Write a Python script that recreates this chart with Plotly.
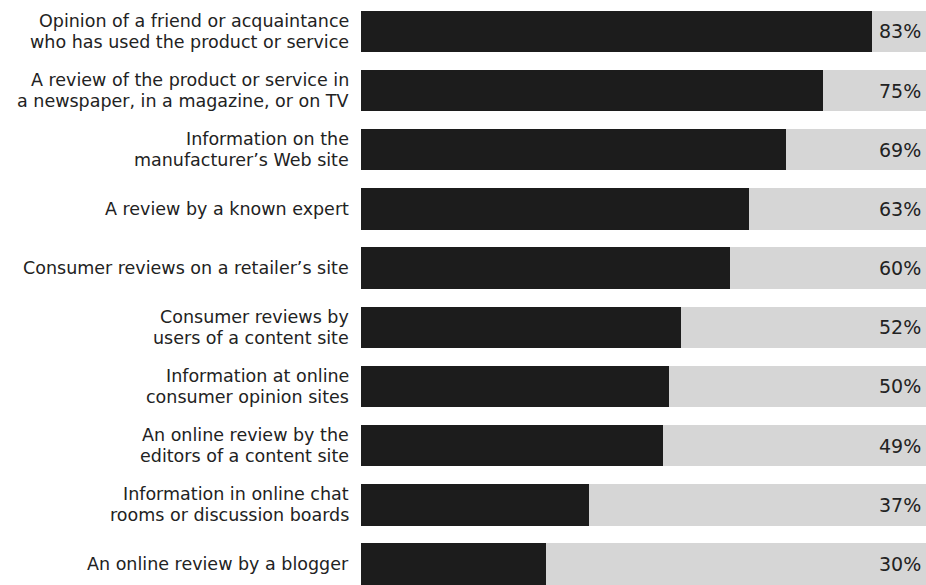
import plotly.graph_objects as go

categories = [
    "Opinion of a friend or acquaintance<br>who has used the product or service",
    "A review of the product or service in<br>a newspaper, in a magazine, or on TV",
    "Information on the<br>manufacturer\u2019s Web site",
    "A review by a known expert",
    "Consumer reviews on a retailer\u2019s site",
    "Consumer reviews by<br>users of a content site",
    "Information at online<br>consumer opinion sites",
    "An online review by the<br>editors of a content site",
    "Information in online chat<br>rooms or discussion boards",
    "An online review by a blogger",
]
values = [83, 75, 69, 63, 60, 52, 50, 49, 37, 30]
full = [100] * len(values)
value_labels = [f"{v}%" for v in values]

pos = list(range(len(categories)))
DARK = "#1c1c1c"
GREY = "#d6d6d6"
TXT = "#222222"
FONT = "DejaVu Sans"

fig = go.Figure()
fig.add_trace(go.Bar(y=pos, x=full, orientation="h", marker=dict(color=GREY, line=dict(width=0)),
                     width=0.7, hoverinfo="skip", showlegend=False))
fig.add_trace(go.Bar(y=pos, x=values, orientation="h", marker=dict(color=DARK, line=dict(width=0)),
                     width=0.7, showlegend=False))

annotations = []
for i, (cat, lab) in enumerate(zip(categories, value_labels)):
    lines = cat.split("<br>")
    n = len(lines)
    for j, line in enumerate(lines):
        shift = (n - 1) * 10.5 - j * 21
        annotations.append(dict(x=0, xref="paper", y=i, yref="y", text=line, showarrow=False,
                                xanchor="right", yanchor="middle", xshift=-10, yshift=shift,
                                font=dict(family=FONT, size=17.5, color=TXT)))
    annotations.append(dict(x=1, xref="paper", y=i, yref="y", text=lab, showarrow=False,
                            xanchor="right", yanchor="middle", xshift=-3,
                            font=dict(family=FONT, size=19, color=TXT)))

fig.update_layout(
    width=926, height=585,
    margin=dict(l=361, r=0, t=0, b=0),
    paper_bgcolor="white", plot_bgcolor="white",
    barmode="overlay", bargap=0,
    xaxis=dict(range=[0, 91.8], visible=False, fixedrange=True),
    yaxis=dict(range=[9.355, -0.53], visible=False, fixedrange=True),
    annotations=annotations,
)
fig.write_html("out.html")
